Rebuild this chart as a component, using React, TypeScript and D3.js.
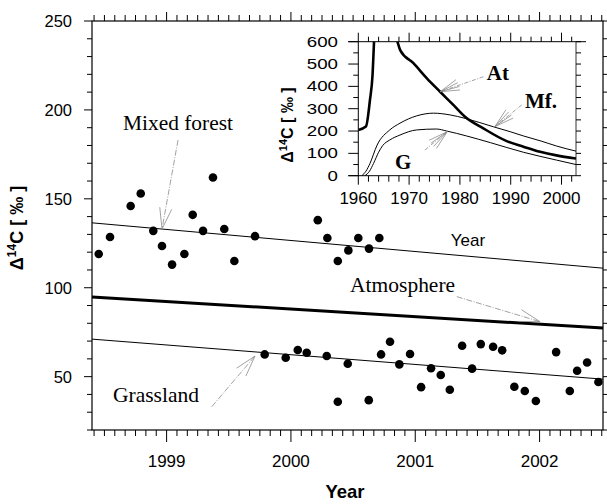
import React from 'react';
import * as d3 from 'd3';

// ---- main panel data ----
const mfYears = [1998.454, 1998.545, 1998.711, 1998.792, 1998.893, 1998.963, 1999.044, 1999.143, 1999.21, 1999.293, 1999.373, 1999.464, 1999.545, 1999.711, 2000.216, 2000.293, 2000.377, 2000.462, 2000.542, 2000.628, 2000.711];
const mfValues = [119, 128.5, 146, 153, 132, 123.5, 113, 119, 141, 132, 162, 133, 115, 129, 138, 128, 115, 121, 128, 122, 128];

const grYears = [1999.789, 1999.958, 2000.055, 2000.127, 2000.288, 2000.377, 2000.457, 2000.626, 2000.725, 2000.797, 2000.872, 2000.958, 2001.047, 2001.127, 2001.205, 2001.278, 2001.377, 2001.457, 2001.527, 2001.626, 2001.699, 2001.797, 2001.881, 2001.97, 2002.133, 2002.243, 2002.302, 2002.382, 2002.473];
const grValues = [62.5, 60.6, 65, 63.4, 61.6, 35.9, 57.3, 36.8, 62.5, 69.6, 56.9, 62.7, 44.1, 54.7, 50.9, 42.6, 67.4, 54.5, 68.3, 66.8, 64.8, 44.3, 41.9, 36.3, 63.8, 41.9, 53.3, 58, 47];

const trendYears = [1998.4, 2002.51];
const mfTrend = [136.5, 111];
const atTrend = [94.8, 77.3];
const grTrend = [71.1, 48.6];

const mainYTicks = [50, 100, 150, 200, 250];
const mainXTicks = [1999, 2000, 2001, 2002];

// ---- inset data ----
const inAtYears = [1960, 1961.5, 1962.3, 1962.8, 1963.1, 1963.6, 1964.3, 1965.3, 1966.5, 1967.7, 1968.3, 1970.8, 1973.5, 1976.1, 1978.7, 1981, 1984.6, 1989.2, 1992.5, 1995.8, 1999, 2002.85];
const inAtValues = [205, 220, 340, 450, 600, 780, 880, 820, 700, 600, 560, 505, 436, 376, 317, 264, 212, 155, 130, 107, 91, 77];

const inMfYears = [1960.7, 1961.5, 1962.3, 1963.7, 1966.2, 1968.2, 1971.5, 1974.8, 1978.1, 1981, 1986.6, 1989.9, 1992.5, 1996, 1999, 2002.85];
const inMfValues = [0, 20, 55, 137, 205, 235, 268, 280, 272, 257, 219, 197, 178, 155, 133, 110];

const inGYears = [1961.3, 1962.2, 1963, 1964, 1964.8, 1966.2, 1968.2, 1971.5, 1975.4, 1977.4, 1981.3, 1986, 1992.5, 1999, 2002.85];
const inGValues = [0, 20, 55, 105, 135, 160, 182, 205, 209, 200, 178, 148, 105, 70, 50];

const insetYTicks = [0, 100, 200, 300, 400, 500, 600];
const insetXTicks = [1960, 1970, 1980, 1990, 2000];

const SANS = "'Liberation Sans', Arial, sans-serif";
const SERIF = "'Liberation Serif', 'Times New Roman', serif";

function Arrow({ x1, y1, x2, y2, fan }: { x1: number; y1: number; x2: number; y2: number; fan?: boolean }) {
  const ang = Math.atan2(y1 - y2, x1 - x2);
  const L = fan ? 20 : 22;
  const angs = fan ? [-18, -8, 4, 14] : [-16, 16];
  return (
    <g stroke="#8a8a8a" strokeWidth={0.8} fill="none">
      <line x1={x1} y1={y1} x2={x2} y2={y2} strokeDasharray={fan ? '4,1.5,1,1.5' : '6,1.5,1,1.5'} />
      {angs.map((a, i) => {
        const t = ang + (a * Math.PI) / 180;
        return <line key={i} x1={x2} y1={y2} x2={x2 + L * Math.cos(t)} y2={y2 + L * Math.sin(t)} />;
      })}
    </g>
  );
}

export default function App() {
  const x = d3.scaleLinear().domain([1998.4, 2002.51]).range([92, 603]);
  const y = d3.scaleLinear().domain([20, 250]).range([430, 21]);
  const ix = d3.scaleLinear().domain([1960, 2002.85]).range([358.3, 576]);
  const iy = d3.scaleLinear().domain([0, 600]).range([175.7, 41.7]);

  const [xl, xr] = x.range();
  const [yb, yt] = y.range();
  const [ixl, ixr] = ix.range();
  const [iyb, iyt] = iy.range();

  const monthTicks = d3.range(Math.ceil(1998.4 * 12), Math.floor(2002.51 * 12) + 1).map((m) => ({ v: m / 12, major: m % 12 === 0 }));
  const yMinor = d3.range(20, 251, 10).map((v) => ({ v, major: v % 50 === 0 }));
  const iyMinor = d3.range(0, 601, 50).map((v) => ({ v, major: v % 100 === 0 }));
  const ixMinor = d3.range(1960, 2003, 2).map((v) => ({ v, major: v % 10 === 0 }));

  const trendLine = d3.line<number>().x((_, i) => x(trendYears[i])).y((d) => y(d));
  const curve = (ys: number[]) => d3.line<number>().x((_, i) => ix(ys[i])).y((d) => iy(d)).curve(d3.curveMonotoneX);

  return (
    <svg width={607} height={504} style={{ position: 'absolute', left: 0, top: 0, background: '#fff' }} fontFamily={SANS}>
      <rect x={0} y={0} width={607} height={504} fill="#fff" />
      <defs>
        <clipPath id="insetClip">
          <rect x={ixl} y={iyt} width={ixr - ixl} height={iyb - iyt} />
        </clipPath>
      </defs>

      {/* main frame */}
      <rect x={xl} y={yt} width={xr - xl} height={yb - yt} fill="none" stroke="#000" strokeWidth={1.2} />

      {/* main x ticks bottom & top */}
      <g stroke="#000" strokeWidth={1}>
        {monthTicks.map((t, i) => (
          <g key={i}>
            <line x1={x(t.v)} x2={x(t.v)} y1={yb} y2={yb + (t.major ? 12 : 6)} />
            <line x1={x(t.v)} x2={x(t.v)} y1={yt} y2={yt - (t.major ? 9 : 6)} />
          </g>
        ))}
        {yMinor.map((t, i) => (
          <g key={'y' + i}>
            <line x1={xl} x2={xl - (t.major ? 8 : 5)} y1={y(t.v)} y2={y(t.v)} />
            <line x1={xr} x2={xr + (t.major ? 8 : 5)} y1={y(t.v)} y2={y(t.v)} />
          </g>
        ))}
      </g>

      {/* main tick labels */}
      <g fontSize={16.5} fill="#000">
        {mainYTicks.map((v) => (
          <text key={v} x={72} y={y(v)} textAnchor="end" dominantBaseline="central">{v}</text>
        ))}
      </g>
      <g fontSize={17} fill="#000">
        {mainXTicks.map((v) => (
          <text key={v} x={x(v)} y={467} textAnchor="middle">{v}</text>
        ))}
      </g>
      <text x={345} y={498} textAnchor="middle" fontSize={18.5} fontWeight="bold">Year</text>
      <text transform={`translate(23,228) rotate(-90)`} textAnchor="middle" fontSize={18} fontWeight="bold">
        Δ<tspan fontSize={12} dy={-7}>14</tspan><tspan dy={7}>C [ ‰ ]</tspan>
      </text>

      {/* trend lines */}
      <path d={trendLine(mfTrend) || ''} fill="none" stroke="#000" strokeWidth={1} />
      <path d={trendLine(atTrend) || ''} fill="none" stroke="#000" strokeWidth={3} />
      <path d={trendLine(grTrend) || ''} fill="none" stroke="#000" strokeWidth={1} />

      {/* points */}
      <g fill="#000">
        {mfValues.map((v, i) => <circle key={'m' + i} cx={x(mfYears[i])} cy={y(v)} r={4.3} />)}
        {grValues.map((v, i) => <circle key={'g' + i} cx={x(grYears[i])} cy={y(v)} r={4.3} />)}
      </g>

      {/* main annotations */}
      <g fontFamily={SERIF} fontSize={21} fill="#000">
        <text x={x(1998.649)} y={y(188.7)} textLength={110} lengthAdjust="spacingAndGlyphs">Mixed forest</text>
        <text x={x(2000.476)} y={y(97.6)} textLength={105} lengthAdjust="spacingAndGlyphs">Atmosphere</text>
        <text x={x(1998.569)} y={y(35.8)} textLength={86} lengthAdjust="spacingAndGlyphs">Grassland</text>
      </g>
      <Arrow x1={x(1999.092)} y1={y(183.1)} x2={x(1998.963)} y2={y(133)} />
      <Arrow x1={x(2001.334)} y1={y(95)} x2={x(2002.004)} y2={y(80.9)} />
      <Arrow x1={x(1999.363)} y1={y(33.1)} x2={x(1999.711)} y2={y(61.6)} />

      {/* ---- inset ---- */}
      <g stroke="#000" strokeWidth={1} fill="none">
        <line x1={ixl - 10} x2={586} y1={iyt} y2={iyt} />
        <line x1={ixl - 10} x2={ixr} y1={iyb} y2={iyb} />
        <line x1={ixl} x2={ixl} y1={iyt} y2={iyb} />
        <line x1={ixr} x2={ixr} y1={iyt} y2={iyb} strokeWidth={0.8} />
        {iyMinor.map((t, i) => (
          <g key={'iy' + i}>
            <line x1={ixl} x2={ixl - (t.major ? 10 : 5)} y1={iy(t.v)} y2={iy(t.v)} />
            <line x1={ixr} x2={ixr + 5} y1={iy(t.v)} y2={iy(t.v)} />
          </g>
        ))}
        {ixMinor.map((t, i) => (
          <g key={'ix' + i}>
            <line x1={ix(t.v)} x2={ix(t.v)} y1={iyb} y2={iyb + (t.major ? 9 : 6)} />
            <line x1={ix(t.v)} x2={ix(t.v)} y1={iyt} y2={iyt - (t.major ? 9 : 5)} />
          </g>
        ))}
      </g>
      <g fontSize={14.5} fill="#000">
        {insetYTicks.map((v) => {
          const s = String(v);
          return (
            <text key={v} x={338} y={iy(v)} textAnchor="end" dominantBaseline="central" textLength={s.length * 10.4} lengthAdjust="spacingAndGlyphs">{s}</text>
          );
        })}
      </g>
      <g fontSize={17} fill="#000">
        {insetXTicks.map((v) => (
          <text key={v} x={ix(v)} y={204} textAnchor="middle">{v}</text>
        ))}
      </g>
      <text x={468} y={246} textAnchor="middle" fontSize={17}>Year</text>
      <text transform={`translate(293,125) rotate(-90)`} textAnchor="middle" fontSize={16} fontWeight="bold">
        Δ<tspan fontSize={11} dy={-6}>14</tspan><tspan dy={6}>C [ ‰ ]</tspan>
      </text>

      <g clipPath="url(#insetClip)" fill="none" stroke="#000">
        <path d={curve(inAtYears)(inAtValues) || ''} strokeWidth={2.6} />
        <path d={curve(inMfYears)(inMfValues) || ''} strokeWidth={1} />
        <path d={curve(inGYears)(inGValues) || ''} strokeWidth={1} />
      </g>

      <g fontFamily={SERIF} fontWeight="bold" fontSize={21} fill="#000">
        <text x={ix(1985.28)} y={iy(428.6)}>At</text>
        <text x={ix(1992.81)} y={iy(301.8)}>Mf.</text>
        <text x={ix(1967.22)} y={iy(28.7)}>G</text>
      </g>
      <Arrow fan x1={ix(1984.6)} y1={iy(443)} x2={ix(1976.1)} y2={iy(376)} />
      <Arrow fan x1={ix(1992.17)} y1={iy(317)} x2={ix(1986.9)} y2={iy(220)} />
      <Arrow fan x1={ix(1973.1)} y1={iy(115)} x2={ix(1977.5)} y2={iy(197)} />
    </svg>
  );
}
